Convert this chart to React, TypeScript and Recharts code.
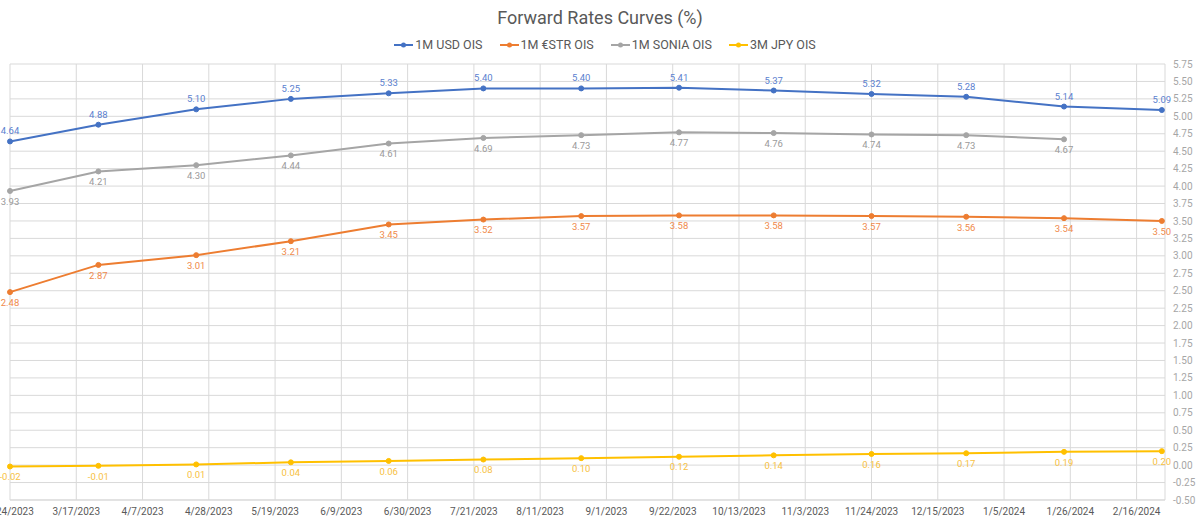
import { CartesianGrid, LabelList, Legend, Line, LineChart, XAxis, YAxis } from "recharts";

const dates = [
  "2023-02-24", "2023-03-24", "2023-04-24", "2023-05-24", "2023-06-24", "2023-07-24", "2023-08-24",
  "2023-09-24", "2023-10-24", "2023-11-24", "2023-12-24", "2024-01-24", "2024-02-24",
];
const usdOis = [4.64, 4.88, 5.1, 5.25, 5.33, 5.4, 5.4, 5.41, 5.37, 5.32, 5.28, 5.14, 5.09];
const estrOis = [2.48, 2.87, 3.01, 3.21, 3.45, 3.52, 3.57, 3.58, 3.58, 3.57, 3.56, 3.54, 3.5];
const soniaOis = [3.93, 4.21, 4.3, 4.44, 4.61, 4.69, 4.73, 4.77, 4.76, 4.74, 4.73, 4.67, null];
const jpyOis = [-0.02, -0.01, 0.01, 0.04, 0.06, 0.08, 0.1, 0.12, 0.14, 0.16, 0.17, 0.19, 0.2];

const xTickDates = [
  "2023-02-24", "2023-03-17", "2023-04-07", "2023-04-28", "2023-05-19", "2023-06-09", "2023-06-30",
  "2023-07-21", "2023-08-11", "2023-09-01", "2023-09-22", "2023-10-13", "2023-11-03", "2023-11-24",
  "2023-12-15", "2024-01-05", "2024-01-26", "2024-02-16",
];
const yTicks = [
  -0.5, -0.25, 0, 0.25, 0.5, 0.75, 1, 1.25, 1.5, 1.75, 2, 2.25, 2.5, 2.75, 3, 3.25, 3.5, 3.75, 4,
  4.25, 4.5, 4.75, 5, 5.25, 5.5, 5.75,
];
const xDomain = ["2023-02-24", "2024-02-25"];

const series = [
  { key: "usd", name: "1M USD OIS", color: "#4472c4", label: "#5b7fcf", pos: "top" },
  { key: "estr", name: "1M €STR OIS", color: "#ed7d31", label: "#f08a4b", pos: "bottom" },
  { key: "sonia", name: "1M SONIA OIS", color: "#a5a5a5", label: "#9a9a9a", pos: "bottom" },
  { key: "jpy", name: "3M JPY OIS", color: "#ffc000", label: "#f7c143", pos: "bottom" },
] as const;

const toDay = (s: string) => Date.parse(s + "T00:00:00Z") / 86400000;

const formatDay = (d: number) => {
  const dt = new Date(d * 86400000);
  return `${dt.getUTCMonth() + 1}/${dt.getUTCDate()}/${dt.getUTCFullYear()}`;
};

const chartData = dates.map((d, i) => ({
  t: toDay(d),
  usd: usdOis[i],
  estr: estrOis[i],
  sonia: soniaOis[i],
  jpy: jpyOis[i],
}));

const fmt = (v: unknown) => (v == null ? "" : Number(v).toFixed(2));

function LegendContent() {
  return (
    <div style={{ display: "flex", justifyContent: "center", gap: 17, height: 28, fontSize: 12.5, color: "#595959" }}>
      {series.map((s) => (
        <div key={s.key} style={{ display: "flex", alignItems: "center", height: 18, lineHeight: "18px" }}>
          <svg width={19} height={8} style={{ marginRight: 2 }}>
            <line x1={0} y1={4} x2={19} y2={4} stroke={s.color} strokeWidth={2} />
            <circle cx={9.5} cy={4} r={2.5} fill={s.color} />
          </svg>
          <span>{s.name}</span>
        </div>
      ))}
    </div>
  );
}

export default function App() {
  return (
    <div
      style={{
        position: "absolute",
        left: 0,
        top: 0,
        width: 1200,
        height: 523,
        background: "#fff",
        fontFamily: "Roboto, 'Noto Sans', sans-serif",
      }}
    >
      <div
        style={{
          position: "absolute",
          top: 7,
          width: 1200,
          textAlign: "center",
          fontSize: 18,
          lineHeight: "22px",
          color: "#595959",
        }}
      >
        Forward Rates Curves (%)
      </div>
      <LineChart width={1200} height={523} data={chartData} margin={{ top: 36, right: 0, bottom: 0, left: 10 }}>
        <CartesianGrid stroke="#d9d9d9" strokeWidth={1} />
        <XAxis
          type="number"
          dataKey="t"
          domain={[toDay(xDomain[0]), toDay(xDomain[1])]}
          ticks={xTickDates.map(toDay)}
          interval={0}
          tickFormatter={formatDay}
          tick={{ fill: "#595959", fontSize: 10 }}
          tickLine={false}
          axisLine={{ stroke: "#d9d9d9" }}
          height={23}
        />
        <YAxis
          orientation="right"
          domain={[-0.5, 5.75]}
          ticks={yTicks}
          interval={0}
          tickFormatter={(v: number) => v.toFixed(2)}
          tick={{ fill: "#a6a6a6", fontSize: 10 }}
          tickLine={false}
          axisLine={false}
          width={35}
        />
        <Legend verticalAlign="top" height={28} content={<LegendContent />} />
        {series.map((s) => (
          <Line
            key={s.key}
            type="linear"
            dataKey={s.key}
            name={s.name}
            stroke={s.color}
            strokeWidth={2}
            dot={{ r: 2.5, fill: s.color, stroke: s.color, strokeWidth: 1 }}
            activeDot={false}
            isAnimationActive={false}
          >
            <LabelList dataKey={s.key} position={s.pos} offset={7} fill={s.label} fontSize={9.5} formatter={fmt} />
          </Line>
        ))}
      </LineChart>
    </div>
  );
}
